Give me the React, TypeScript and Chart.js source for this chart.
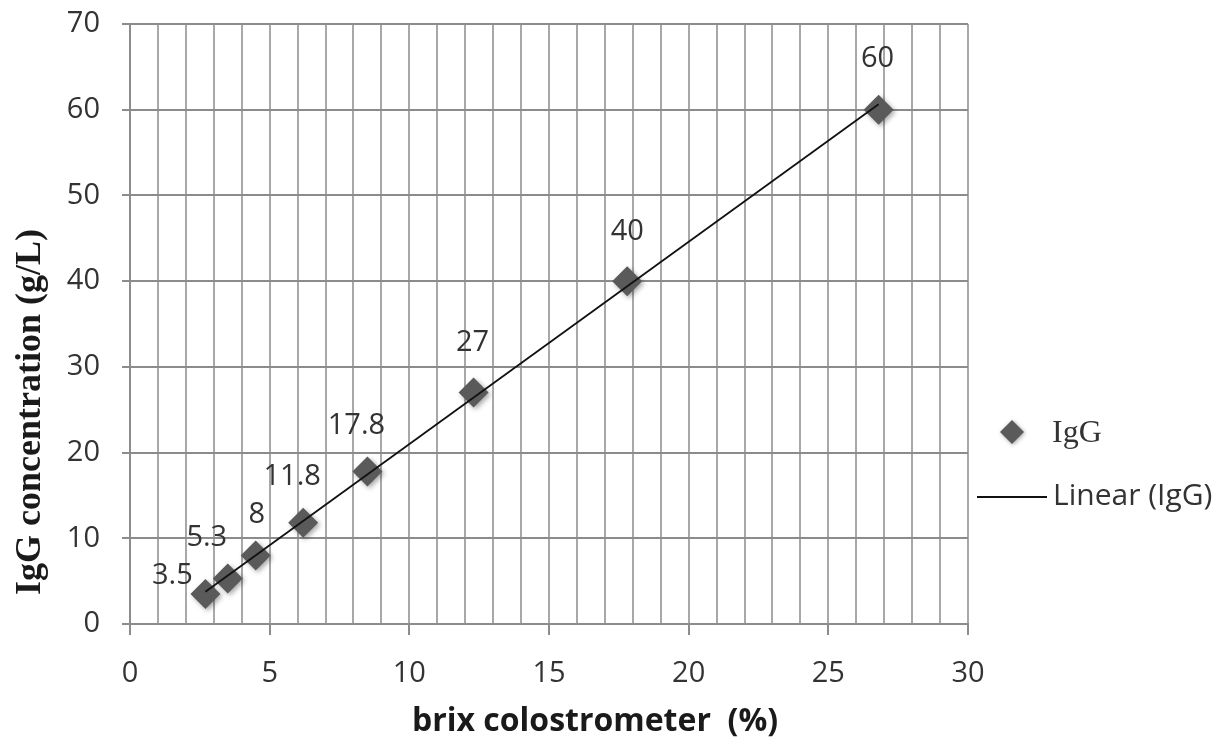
import React, { useEffect, useRef } from "react";
import { Chart, registerables } from "chart.js";

Chart.register(...registerables);

// ---- data ----
const brix = [2.7, 3.5, 4.5, 6.2, 8.5, 12.3, 17.8, 26.8];
const igg = [3.5, 5.3, 8, 11.8, 17.8, 27, 40, 60];
const pointLabels = ["3.5", "5.3", "8", "11.8", "17.8", "27", "40", "60"];
const xRange = [0, 30];
const yRange = [0, 70];
const xTitle = "brix colostrometer  (%)";
const yTitle = "IgG concentration (g/L)";
const seriesName = "IgG";
const trendName = "Linear (IgG)";

// ---- layout (pixel offsets of the value labels relative to their points) ----
const labelOffsets: [number, number][] = [
  [-33, -18],
  [-21, -41],
  [1, -41],
  [-11, -46],
  [-11, -46],
  [-1, -50],
  [0, -49],
  [-1, -51],
];

function linearFit(xs: number[], ys: number[]) {
  const n = xs.length;
  const mx = xs.reduce((a, b) => a + b, 0) / n;
  const my = ys.reduce((a, b) => a + b, 0) / n;
  let sxy = 0;
  let sxx = 0;
  for (let i = 0; i < n; i++) {
    sxy += (xs[i] - mx) * (ys[i] - my);
    sxx += (xs[i] - mx) * (xs[i] - mx);
  }
  const slope = sxy / sxx;
  return { slope, intercept: my - slope * mx };
}

const SANS = "'Open Sans', sans-serif";
const SERIF = "'Liberation Serif', 'DejaVu Serif', serif";
const MARK = "#5a5a5a";
const TEXT = "#333333";

export default function App() {
  const ref = useRef<HTMLCanvasElement | null>(null);

  useEffect(() => {
    document.body.style.margin = "0";
    const canvas = ref.current;
    if (!canvas) return;

    const fit = linearFit(brix, igg);
    const xmin = Math.min(...brix);
    const xmax = Math.max(...brix);
    const trend = [
      { x: xmin, y: fit.slope * xmin + fit.intercept },
      { x: xmax, y: fit.slope * xmax + fit.intercept },
    ];

    const overlay = {
      id: "overlay",
      beforeDatasetDraw(chart: any, args: any) {
        if (args.index === 1) {
          const ctx = chart.ctx;
          ctx.shadowColor = "rgba(0,0,0,0.35)";
          ctx.shadowBlur = 5;
          ctx.shadowOffsetX = 2;
          ctx.shadowOffsetY = 2;
        }
      },
      afterDatasetDraw(chart: any) {
        const ctx = chart.ctx;
        ctx.shadowColor = "rgba(0,0,0,0)";
        ctx.shadowBlur = 0;
        ctx.shadowOffsetX = 0;
        ctx.shadowOffsetY = 0;
      },
      afterDraw(chart: any) {
        const ctx = chart.ctx as CanvasRenderingContext2D;
        const xs = chart.scales.x;
        const ys = chart.scales.y;
        ctx.save();
        // value labels
        ctx.fillStyle = TEXT;
        ctx.font = `29px ${SANS}`;
        ctx.textAlign = "center";
        ctx.textBaseline = "middle";
        for (let i = 0; i < brix.length; i++) {
          const px = xs.getPixelForValue(brix[i]);
          const py = ys.getPixelForValue(igg[i]);
          const [dx, dy] = labelOffsets[i];
          ctx.fillText(pointLabels[i], px + dx, py + dy);
        }
        // axis titles
        ctx.fillStyle = "#1a1a1a";
        ctx.font = `bold 32px ${SANS}`;
        ctx.fillText(xTitle, 595, 722);
        ctx.save();
        ctx.translate(31, 412);
        ctx.rotate(-Math.PI / 2);
        ctx.font = `bold 36px ${SERIF}`;
        ctx.fillText(yTitle, 0, 0);
        ctx.restore();
        // legend
        ctx.save();
        ctx.shadowColor = "rgba(0,0,0,0.35)";
        ctx.shadowBlur = 4;
        ctx.shadowOffsetX = 1;
        ctx.shadowOffsetY = 1;
        ctx.fillStyle = MARK;
        const lx = 1012;
        const ly = 432;
        const r = 12;
        ctx.beginPath();
        ctx.moveTo(lx, ly - r);
        ctx.lineTo(lx + r, ly);
        ctx.lineTo(lx, ly + r);
        ctx.lineTo(lx - r, ly);
        ctx.closePath();
        ctx.fill();
        ctx.restore();
        ctx.fillStyle = TEXT;
        ctx.textAlign = "left";
        ctx.font = `32px ${SERIF}`;
        ctx.fillText(seriesName, 1052, 434);
        ctx.strokeStyle = "#111";
        ctx.lineWidth = 2;
        ctx.beginPath();
        ctx.moveTo(977, 497);
        ctx.lineTo(1047, 497);
        ctx.stroke();
        ctx.font = `30px ${SANS}`;
        ctx.fillText(trendName, 1053, 496);
        ctx.restore();
      },
    };

    const chart = new Chart(canvas, {
      type: "scatter",
      data: {
        datasets: [
          {
            type: "line",
            label: trendName,
            data: trend,
            borderColor: "#111111",
            borderWidth: 1.8,
            pointRadius: 0,
            fill: false,
            order: 0,
          } as any,
          {
            label: seriesName,
            data: brix.map((x, i) => ({ x, y: igg[i] })),
            pointStyle: "rectRot",
            pointRadius: 15,
            backgroundColor: MARK,
            borderColor: MARK,
            borderWidth: 0,
            order: 1,
          },
        ],
      },
      options: {
        animation: false,
        responsive: false,
        maintainAspectRatio: false,
        layout: { padding: { top: 24, right: 258, bottom: 0, left: 0 } },
        plugins: {
          legend: { display: false },
          tooltip: { enabled: false },
          title: { display: false },
        },
        scales: {
          x: {
            type: "linear",
            min: xRange[0],
            max: xRange[1],
            afterFit(scale: any) {
              scale.height = 123;
              scale.paddingLeft = 0;
              scale.paddingRight = 0;
            },
            ticks: {
              stepSize: 1,
              autoSkip: false,
              maxRotation: 0,
              padding: 21,
              color: TEXT,
              font: { family: SANS, size: 29 },
              callback: (v: any) => (Number(v) % 5 === 0 ? String(v) : ""),
            },
            grid: {
              color: "#a8a8a8",
              lineWidth: 2,
              tickLength: 11,
              tickColor: (c: any) =>
                c.tick && Number(c.tick.value) % 5 === 0 ? "#8c8c8c" : "rgba(0,0,0,0)",
            },
            border: { color: "#8c8c8c", width: 2 },
          },
          y: {
            type: "linear",
            min: yRange[0],
            max: yRange[1],
            afterFit(scale: any) {
              scale.width = 130;
              scale.paddingTop = 0;
              scale.paddingBottom = 0;
            },
            ticks: {
              stepSize: 10,
              padding: 22,
              color: TEXT,
              font: { family: SANS, size: 29 },
            },
            grid: {
              color: "#8c8c8c",
              lineWidth: 2,
              tickLength: 8,
              tickColor: "#8c8c8c",
            },
            border: { color: "#8c8c8c", width: 2 },
          },
        },
      },
      plugins: [overlay],
    });

    return () => chart.destroy();
  }, []);

  return (
    <div style={{ width: 1226, height: 747, background: "#ffffff" }}>
      <canvas ref={ref} width={1226} height={747} style={{ display: "block" }} />
    </div>
  );
}
